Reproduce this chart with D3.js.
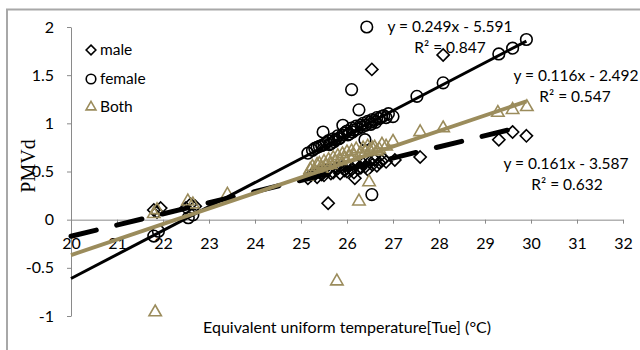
<!DOCTYPE html>
<html>
<head>
<meta charset="utf-8">
<script src="https://cdn.jsdelivr.net/npm/d3@7/dist/d3.min.js"></script>
<style>
  html, body { margin: 0; padding: 0; background: #fff; }
  svg { display: block; }
  text { font-family: Lato, "Open Sans", sans-serif; fill: #000; }
</style>
</head>
<body>
<svg id="chart" width="640" height="350"></svg>
<script>
// Observed PMVd against equivalent uniform temperature (°C)
const maleX = [21.8, 21.87, 21.95, 22.5, 22.6, 22.7,
  25.15, 25.22, 25.3, 25.35, 25.4, 25.45, 25.5, 25.55, 25.59, 25.6, 25.65, 25.7, 25.75,
  25.8, 25.85, 25.9, 25.95, 26.0, 26.05, 26.1, 26.15, 26.17, 26.2, 26.25, 26.3, 26.35,
  26.4, 26.45, 26.5, 26.54, 26.55, 26.6, 26.65, 26.7, 26.75, 26.8, 26.85, 27.04, 27.59,
  28.09, 29.3, 29.6, 29.9];
const maleY = [0.1, 0.08, 0.12, 0.12, 0.16, 0.14,
  0.43, 0.46, 0.47, 0.44, 0.5, 0.47, 0.46, 0.51, 0.17, 0.52, 0.48, 0.49, 0.54,
  0.53, 0.48, 0.55, 0.51, 0.5, 0.56, 0.52, 0.49, 0.43, 0.57, 0.53, 0.54, 0.58,
  0.55, 0.52, 0.6, 1.56, 0.57, 0.62, 0.56, 0.59, 0.61, 0.63, 0.6, 0.62, 0.65,
  1.71, 0.83, 0.91, 0.87];

const femaleX = [21.8, 21.9, 22.55, 22.65,
  25.15, 25.25, 25.3, 25.35, 25.4, 25.45, 25.48, 25.5, 25.55, 25.6, 25.62, 25.65, 25.7,
  25.72, 25.75, 25.8, 25.82, 25.85, 25.9, 25.91, 25.95, 26.0, 26.02, 26.05, 26.1, 26.1,
  26.12, 26.15, 26.2, 26.22, 26.26, 26.3, 26.32, 26.35, 26.39, 26.4, 26.43, 26.45, 26.5,
  26.52, 26.54, 26.55, 26.6, 26.62, 26.65, 26.7, 26.75, 26.8, 26.85, 26.9, 27.0, 27.52,
  28.09, 29.3, 29.6, 29.9];
const femaleY = [-0.17, -0.12, 0.02, 0.05,
  0.69, 0.72, 0.74, 0.75, 0.76, 0.77, 0.91, 0.78, 0.8, 0.82, 0.78, 0.79, 0.84,
  0.81, 0.83, 0.87, 0.84, 0.85, 0.88, 0.98, 0.9, 0.92, 0.88, 0.89, 1.35, 0.95,
  0.91, 0.93, 0.97, 0.94, 1.14, 0.98, 0.96, 1.0, 0.83, 0.98, 2.0, 1.02, 1.01,
  0.99, 0.26, 1.04, 1.03, 1.01, 1.06, 1.05, 1.07, 1.08, 1.06, 1.1, 1.07, 1.28,
  1.42, 1.72, 1.78, 1.87];

const bothX = [21.83, 21.87, 21.8, 22.54, 22.65, 23.4,
  25.13, 25.2, 25.25, 25.3, 25.35, 25.4, 25.45, 25.5, 25.55, 25.6, 25.65, 25.7, 25.75,
  25.78, 25.8, 25.85, 25.9, 25.95, 26.0, 26.05, 26.1, 26.15, 26.2, 26.26, 26.3, 26.35,
  26.4, 26.45, 26.48, 26.5, 26.55, 26.6, 26.65, 26.7, 26.76, 26.85, 27.0, 27.59, 28.09,
  29.28, 29.6, 29.91];
const bothY = [-0.96, 0.1, 0.06, 0.19, 0.16, 0.26,
  0.45, 0.52, 0.55, 0.5, 0.57, 0.58, 0.53, 0.6, 0.56, 0.62, 0.57, 0.64, 0.6,
  -0.64, 0.66, 0.61, 0.68, 0.63, 0.7, 0.65, 0.71, 0.66, 0.73, 0.19, 0.69, 0.74,
  0.7, 0.76, 0.39, 0.72, 0.74, 0.75, 0.71, 0.73, 0.78, 0.76, 0.81, 0.91, 0.95,
  1.11, 1.14, 1.17];

// Linear fits: [slope, intercept]
const maleFit = [0.116, -2.492];
const femaleFit = [0.249, -5.591];
const bothFit = [0.161, -3.587];
const fitRange = [20, 29.9];

const fitLabels = [
  ["y = 0.249x - 5.591", "R² = 0.847"],
  ["y = 0.116x - 2.492", "R² = 0.547"],
  ["y = 0.161x - 3.587", "R² = 0.632"]
];

const xTicks = [20, 21, 22, 23, 24, 25, 26, 27, 28, 29, 30, 31, 32];
const yTicks = [-1, -0.5, 0, 0.5, 1, 1.5, 2];
const seriesNames = ["male", "female", "Both"];

const olive = "#9b8c5c";
const axisGrey = "#8a8a8a";

const svg = d3.select("#chart");
const x = d3.scaleLinear().domain([20, 32]).range([71, 623]);
const y = d3.scaleLinear().domain([-1, 2]).range([316, 27]);

// outer frame
svg.append("path")
  .attr("d", "M7,352 L7,9.5 L642,9.5")
  .attr("fill", "none").attr("stroke", "#a8a8a8").attr("stroke-width", 2);

const fmt = d => String(d);

// y axis
const gy = svg.append("g").attr("transform", `translate(${x(20)},0)`)
  .call(d3.axisLeft(y).tickValues(yTicks).tickFormat(fmt).tickSize(4).tickSizeOuter(0).tickPadding(13));
// x axis on y = 0
const gx = svg.append("g").attr("transform", `translate(0,${y(0)})`)
  .call(d3.axisBottom(x).tickValues(xTicks).tickFormat(fmt).tickSize(4).tickSizeOuter(0).tickPadding(14));
[gx, gy].forEach(g => {
  g.select(".domain").attr("stroke", axisGrey);
  g.selectAll(".tick line").attr("stroke", axisGrey);
  g.selectAll(".tick text").style("font-family", "Lato, sans-serif").style("font-size", "16px").attr("fill", "#000");
});

const plot = svg.append("g");

const diamond = d3.symbol().type(d3.symbolDiamond2).size(95);
const tri = d3.symbol().type(d3.symbolTriangle2).size(110);

// male: open diamonds
plot.append("g").selectAll("path").data(d3.zip(maleX, maleY)).join("path")
  .attr("d", diamond)
  .attr("transform", d => `translate(${x(d[0])},${y(d[1])})`)
  .attr("fill", "none").attr("stroke", "#000").attr("stroke-width", 1.6);

// female: open circles
plot.append("g").selectAll("circle").data(d3.zip(femaleX, femaleY)).join("circle")
  .attr("cx", d => x(d[0])).attr("cy", d => y(d[1])).attr("r", 5.8)
  .attr("fill", "none").attr("stroke", "#000").attr("stroke-width", 1.6);

// both: open triangles
plot.append("g").selectAll("path").data(d3.zip(bothX, bothY)).join("path")
  .attr("d", tri)
  .attr("transform", d => `translate(${x(d[0])},${y(d[1])})`)
  .attr("fill", "none").attr("stroke", olive).attr("stroke-width", 1.6);

// trend lines
function fitLine(fit) {
  return fitRange.map(v => [x(v), y(fit[0] * v + fit[1])]);
}
const line = d3.line();
plot.append("path").attr("d", line(fitLine(maleFit)))
  .attr("fill", "none").attr("stroke", "#000").attr("stroke-width", 5)
  .attr("stroke-linecap", "round").attr("stroke-dasharray", "26,21");
plot.append("path").attr("d", line(fitLine(femaleFit)))
  .attr("fill", "none").attr("stroke", "#000").attr("stroke-width", 3);
plot.append("path").attr("d", line(fitLine(bothFit)))
  .attr("fill", "none").attr("stroke", olive).attr("stroke-width", 4);

// fit annotations
const labelPos = [[450, 32, 450, 53], [576, 81, 575, 102], [566, 169, 567, 190]];
fitLabels.forEach((lab, i) => {
  const p = labelPos[i];
  svg.append("text").attr("x", p[0]).attr("y", p[1]).attr("text-anchor", "middle")
    .style("font-size", "15.5px").text(lab[0]);
  svg.append("text").attr("x", p[2]).attr("y", p[3]).attr("text-anchor", "middle")
    .style("font-size", "15.5px").text(lab[1]);
});

// legend
const leg = svg.append("g");
const legY = [50, 79, 107];
leg.append("path").attr("d", d3.symbol().type(d3.symbolDiamond2).size(60)())
  .attr("transform", `translate(91,${legY[0]})`).attr("fill", "none").attr("stroke", "#000").attr("stroke-width", 1.6);
leg.append("circle").attr("cx", 91).attr("cy", legY[1]).attr("r", 4.8)
  .attr("fill", "none").attr("stroke", "#000").attr("stroke-width", 1.6);
leg.append("path").attr("d", d3.symbol().type(d3.symbolTriangle2).size(70)())
  .attr("transform", `translate(91,${legY[2]})`).attr("fill", "none").attr("stroke", olive).attr("stroke-width", 1.6);
seriesNames.forEach((n, i) => {
  leg.append("text").attr("x", 100).attr("y", legY[i] + 5).style("font-size", "15.5px").text(n);
});

// axis titles
svg.append("text").attr("x", 347).attr("y", 333).attr("text-anchor", "middle")
  .style("font-size", "16px").text("Equivalent uniform temperature[Tue] (°C)");
svg.append("text").attr("transform", "translate(35,166) rotate(-90)")
  .attr("text-anchor", "middle")
  .style("font-family", "'Liberation Serif', serif").style("font-size", "20px")
  .text("PMVd");
</script>
</body>
</html>
